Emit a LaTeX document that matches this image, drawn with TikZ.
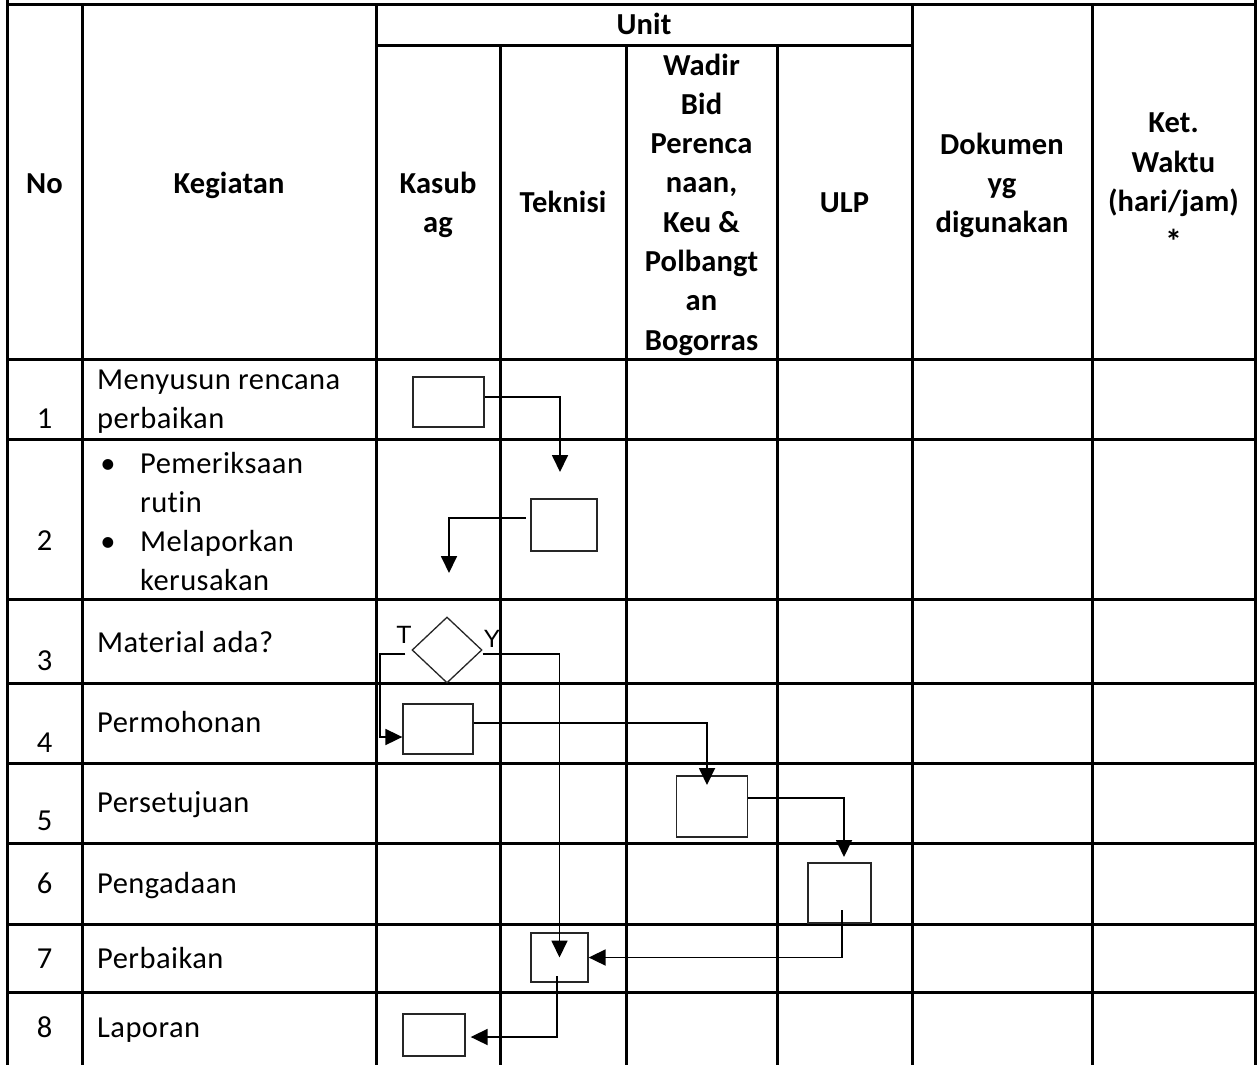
\documentclass[tikz,border=0pt]{standalone}
\usepackage{fontspec}
\setmainfont{Carlito}[LetterSpace=1.5,Ligatures=NoCommon,BoldFeatures={LetterSpace=0.5}]
\newfontfamily\lblfont{Liberation Sans}
\usetikzlibrary{arrows.meta,shapes.geometric}
\tikzset{
  grid/.style={line width=3pt, line cap=rect},
  fbox/.style={draw=black!85, line width=1.3pt, rectangle, inner sep=0pt},
  conn/.style={line width=1.8pt, -{Triangle[length=17pt,width=16pt]}},
  txt/.style={font=\fontsize{30.5}{39}\selectfont, inner sep=0pt, anchor=base west},
  num/.style={font=\fontsize{30.5}{39}\selectfont, inner sep=0pt, anchor=base},
  hb/.style={font=\fontsize{30.5}{39}\selectfont\bfseries, inner sep=0pt, anchor=base},
  lbl/.style={font=\lblfont\fontsize{25}{28}\selectfont, inner sep=0pt, anchor=base}
}
\begin{document}
\begin{tikzpicture}[x=1pt,y=-1pt]
\useasboundingbox (0,0) rectangle (1258,1065);
\fill[white] (0,0) rectangle (1258,1065);
% grid
\draw[grid] (7,0) -- (7,1065);
\draw[grid] (1255,0) -- (1255,1065);
\foreach \x in {82,376,912,1092} \draw[grid] (\x,5) -- (\x,1065);
\foreach \x in {500,626,777} \draw[grid] (\x,46) -- (\x,1065);
\draw[grid] (7,5) -- (1255,5);
\draw[grid] (376,46) -- (912,46);
\foreach \y in {359,439,599,683,763,843,924,992} \draw[grid] (7,\y) -- (1255,\y);
% header
\node[hb] (hNo) at (44.5,193) {No};
\node[hb] (hKeg) at (229,193) {Kegiatan};
\node[hb] (hUnit) at (644,35) {Unit};
\node[hb] (hKas1) at (438,193) {Kasub};
\node[hb] (hKas2) at (438,232) {ag};
\node[hb] (hTek) at (563,212) {Teknisi};
\node[hb] (hW1) at (701.5,75) {Wadir};
\node[hb] (hW2) at (701.5,114.3) {Bid};
\node[hb] (hW3) at (701.5,153.6) {Perenca};
\node[hb] (hW4) at (701.5,192.9) {naan,};
\node[hb] (hW5) at (701.5,232.2) {Keu \&};
\node[hb] (hW6) at (701.5,271.5) {Polbangt};
\node[hb] (hW7) at (701.5,310.8) {an};
\node[hb] (hW8) at (701.5,350.1) {Bogorras};
\node[hb] (hULP) at (844.5,212) {ULP};
\node[hb] (hD1) at (1002,154) {Dokumen};
\node[hb] (hD2) at (1002,193) {yg};
\node[hb] (hD3) at (1002,232) {digunakan};
\node[hb] (hK1) at (1173.5,132) {Ket.};
\node[hb] (hK2) at (1173.5,172) {Waktu};
\node[hb] (hK3) at (1173.5,211) {(hari/jam)};
\node[hb, font=\fontsize{34}{39}\selectfont\bfseries] (hK4) at (1173.5,253) {*};
% rows: numbers
\node[num] (n1) at (44.5,428) {1};
\node[num] (n2) at (44.5,550) {2};
\node[num] (n3) at (44.5,670) {3};
\node[num] (n4) at (44.5,752) {4};
\node[num] (n5) at (44.5,830) {5};
\node[num] (n6) at (44.5,893) {6};
\node[num] (n7) at (44.5,968) {7};
\node[num] (n8) at (44.5,1037) {8};
% rows: activities
\node[txt] (k1a) at (97,389) {Menyusun rencana};
\node[txt] (k1b) at (97,428) {perbaikan};
\node[num] (bul1) at (108,473) {•};
\node[txt] (k2a) at (140,473) {Pemeriksaan};
\node[txt] (k2b) at (140,512) {rutin};
\node[num] (bul2) at (108,551) {•};
\node[txt] (k2c) at (140,551) {Melaporkan};
\node[txt] (k2d) at (140,590) {kerusakan};
\node[txt] (k3) at (97,652) {Material ada?};
\node[txt] (k4) at (97,732) {Permohonan};
\node[txt] (k5) at (97,812) {Persetujuan};
\node[txt] (k6) at (97,893) {Pengadaan};
\node[txt] (k7) at (97,968) {Perbaikan};
\node[txt] (k8) at (97,1037) {Laporan};
% flow shapes
\node[fbox, minimum width=71pt, minimum height=50pt] (b1) at (448.5,402) {};
\node[fbox, minimum width=66pt, minimum height=52pt] (b2) at (564,525) {};
\node[draw=black!85, line width=1.3pt, diamond, inner sep=0pt, minimum width=70pt, minimum height=66pt] (d3) at (447,650) {};
\node[fbox, minimum width=70pt, minimum height=50pt] (b4) at (438,729) {};
\node[fbox, minimum width=71.5pt, minimum height=61pt] (b5) at (712,806.5) {};
\node[fbox, minimum width=63pt, minimum height=60pt] (b6) at (839.5,893) {};
\node[fbox, minimum width=57pt, minimum height=49pt] (b7) at (559.5,957.5) {};
\node[fbox, minimum width=62pt, minimum height=42pt] (b8) at (434,1035) {};
\node[lbl] (lT) at (404,643) {T};
\node[lbl] (lY) at (492,647) {Y};
% free ends
\coordinate (e1) at (560,472);
\coordinate (e2) at (449,573);
\coordinate (e5) at (707,785);
\coordinate (e6) at (844,857);
% connectors
\draw[conn] ([yshift=5pt]b1.east) -| (e1);
\draw[conn] ([xshift=-4.5pt,yshift=7pt]b2.west) -| (e2);
\draw[conn] ([xshift=-6pt,yshift=-4pt]d3.west) -- ++(-25,0) |- ([yshift=-8pt]b4.west);
\draw[conn] ([yshift=-4pt]d3.east) -| (b7.center);
\draw[conn] ([yshift=6pt]b4.east) -| (e5);
\draw[conn] ([yshift=8.5pt]b5.east) -| (e6);
\draw[conn] ([xshift=2.5pt,yshift=-17pt]b6.center) |- (b7.east);
\draw[conn] ([xshift=-2.5pt,yshift=-18.5pt]b7.center) |- ([xshift=5pt,yshift=-2pt]b8.east);
\end{tikzpicture}
\end{document}
